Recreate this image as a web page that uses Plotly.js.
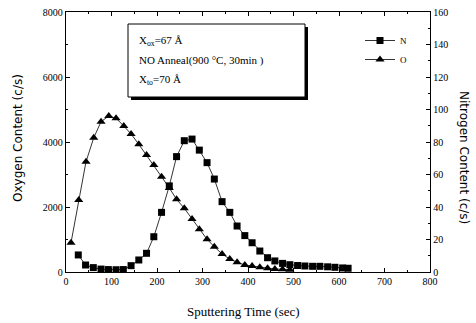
<!DOCTYPE html>
<html><head><meta charset="utf-8">
<script src="https://cdn.plot.ly/plotly-3.0.1.min.js"></script>
<style>html,body{margin:0;padding:0;background:#fff}#chart{width:476px;height:323px}</style>
</head><body><div id="chart"></div>
<script>
var oTime = [11, 28, 44, 61, 77, 94, 110, 127, 143, 160, 177, 193, 210, 227, 243, 260, 277, 293, 310, 326, 343, 360, 376, 393, 409, 426, 443, 459, 476, 492];
var oxygen = [900, 2215, 3394, 4132, 4625, 4800, 4730, 4492, 4246, 3928, 3600, 3290, 2930, 2585, 2237, 1960, 1631, 1314, 1006, 778, 554, 400, 298, 215, 185, 145, 114, 92, 83, 70];
var nTime = [27, 43, 60, 77, 93, 110, 126, 143, 160, 177, 193, 210, 227, 243, 260, 277, 293, 310, 326, 343, 360, 376, 393, 409, 426, 443, 459, 476, 492, 509, 525, 542, 558, 575, 591, 608, 620];
var nitrogen = [10.5, 4.3, 2.7, 1.8, 1.5, 1.4, 1.5, 3.9, 7.4, 11.5, 21.7, 36.7, 53, 71, 80.8, 81.8, 75, 67.3, 57.2, 43.3, 36.7, 28.3, 22.4, 18, 12.9, 8.8, 6.8, 5.3, 4.5, 4.0, 3.7, 3.5, 3.5, 3.2, 2.9, 2.5, 2.3];
var xTicks = [0, 100, 200, 300, 400, 500, 600, 700, 800];
var oTicks = [0, 2000, 4000, 6000, 8000];
var nTicks = [0, 20, 40, 60, 80, 100, 120, 140, 160];
var seriesNames = ["N", "O"];
var boxLines = ["X<sub>ox</sub>=67 Å", "NO Anneal(900 °C, 30min )", "X<sub>to</sub>=70 Å"];

var L = 66, R = 430, T = 12, B = 272;
function px(x){return (x - L) / (R - L);}
function py(y){return (B - y) / (B - T);}

var serif = "Liberation Serif, Times New Roman, serif";
var traces = [
  {x: nTime, y: nitrogen, name: seriesNames[0], yaxis: "y2", mode: "lines+markers",
   line: {color: "#000", width: 0.8}, marker: {symbol: "square", size: 7, color: "#000"}},
  {x: oTime, y: oxygen, name: seriesNames[1], yaxis: "y", mode: "lines+markers",
   line: {color: "#000", width: 0.8}, marker: {symbol: "triangle-up", size: 8, color: "#000"}}
];
var axisCommon = {showline: true, linecolor: "#000", linewidth: 1.2, ticks: "inside", ticklen: 4,
  tickcolor: "#000", showgrid: false, zeroline: false, tickfont: {family: serif, size: 10, color: "#000"}};
var layout = {
  width: 476, height: 323, margin: {l: L, r: 476 - R, t: T, b: 323 - B},
  paper_bgcolor: "#fff", plot_bgcolor: "#fff", showlegend: true,
  legend: {x: px(360), y: py(26), xanchor: "left", yanchor: "top", bgcolor: "rgba(0,0,0,0)",
    font: {family: serif, size: 9, color: "#000"}, tracegroupgap: 0, itemwidth: 30},
  xaxis: Object.assign({}, axisCommon, {range: [0, 800], tickvals: xTicks, mirror: "ticks",
    minor: {dtick: 50, ticklen: 2, ticks: "inside", tickcolor: "#000"}}),
  yaxis: Object.assign({}, axisCommon, {range: [0, 8000], tickvals: oTicks,
    minor: {dtick: 1000, ticklen: 2, ticks: "inside", tickcolor: "#000"}}),
  yaxis2: Object.assign({}, axisCommon, {range: [0, 160], tickvals: nTicks, overlaying: "y", side: "right",
    minor: {dtick: 10, ticklen: 2, ticks: "inside", tickcolor: "#000"}}),
  shapes: [
    {type: "rect", xref: "paper", yref: "paper", x0: px(131), x1: px(308), y0: py(100), y1: py(27),
     fillcolor: "#000", line: {width: 0}},
    {type: "rect", xref: "paper", yref: "paper", x0: px(128), x1: px(305), y0: py(97), y1: py(24),
     fillcolor: "#fff", line: {color: "#000", width: 1}}
  ],
  annotations: [
    {xref: "paper", yref: "paper", x: px(137), y: py(41), xanchor: "left", yanchor: "middle", showarrow: false,
     text: boxLines[0], font: {family: serif, size: 11, color: "#000"}},
    {xref: "paper", yref: "paper", x: px(137), y: py(60), xanchor: "left", yanchor: "middle", showarrow: false,
     text: boxLines[1], font: {family: serif, size: 11, color: "#000"}},
    {xref: "paper", yref: "paper", x: px(137), y: py(80), xanchor: "left", yanchor: "middle", showarrow: false,
     text: boxLines[2], font: {family: serif, size: 11, color: "#000"}},
    {xref: "paper", yref: "paper", x: px(243), y: py(311), xanchor: "center", yanchor: "middle", showarrow: false,
     text: "Sputtering Time (sec)", font: {family: serif, size: 13, color: "#000"}},
    {xref: "paper", yref: "paper", x: px(18), y: py(138), xanchor: "center", yanchor: "middle", showarrow: false,
     textangle: -90, text: "Oxygen Content (c/s)", font: {family: "DejaVu Sans", size: 12, color: "#000"}},
    {xref: "paper", yref: "paper", x: px(464), y: py(158), xanchor: "center", yanchor: "middle", showarrow: false,
     textangle: 90, text: "Nitrogen Content (c/s)", font: {family: "DejaVu Sans", size: 12, color: "#000"}}
  ]
};
Plotly.newPlot("chart", traces, layout, {displayModeBar: false, staticPlot: true});
</script></body></html>
